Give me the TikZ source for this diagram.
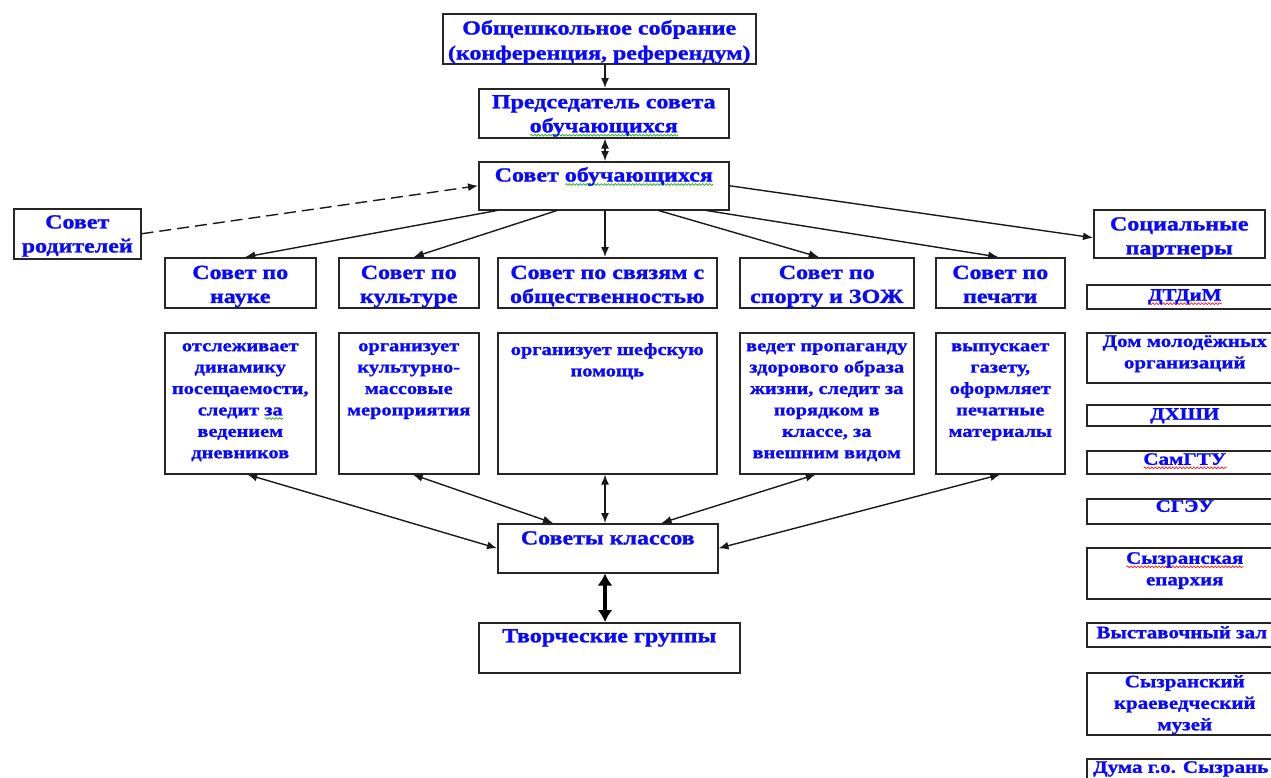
\documentclass[tikz,border=0pt]{standalone}
\usepackage{fontspec}
\setmainfont{Liberation Serif}[FakeStretch=1.2, BoldFeatures={FakeStretch=1.2, FakeBold=1.3}]
\usetikzlibrary{positioning, arrows.meta, decorations.pathmorphing}
\definecolor{ink}{RGB}{10,10,250}
\definecolor{spellg}{RGB}{40,170,40}
\definecolor{spellr}{RGB}{230,30,30}
\newlength\wavelen
\newcommand\wavy[2]{\settowidth\wavelen{#2}\rlap{\tikz[baseline=0pt]\draw[#1, line width=0.7pt, decorate, decoration={snake, amplitude=0.9pt, segment length=3.5pt}] (0pt,-3pt) -- (\wavelen,-3pt);}#2}
\tikzset{
    box/.style={draw=black!85, line width=1.5pt, anchor=north west, inner sep=0pt},
    head/.style={text=ink, font=\fontsize{20}{24}\selectfont\bfseries, align=center, inner sep=0pt},
    note/.style={text=ink, font=\fontsize{17}{21.4}\selectfont\bfseries, align=center, inner sep=0pt},
    part/.style={text=ink, font=\fontsize{17.5}{21.5}\selectfont\bfseries, align=center, inner sep=0pt},
    link/.style={-{Latex[length=10pt,width=8pt]}, line width=1.4pt, black!90},
    both/.style={{Latex[length=10pt,width=8pt]}-{Latex[length=10pt,width=8pt]}, line width=1.4pt, black!90},
    fat/.style={{Latex[length=12pt,width=15pt]}-{Latex[length=12pt,width=15pt]}, line width=4pt},
}

\begin{document}
\begin{tikzpicture}[x=1pt, y=-1pt]
        \useasboundingbox (0,0) rectangle (1271,777);
        \clip (0,0) rectangle (1271,777);
        \coordinate (axis) at (605,0);

        \node[box, minimum width=313pt, minimum height=50pt] (meet) at (442,13) {}; % meeting
        \node[head, font=\fontsize{20}{25}\selectfont\bfseries, below=7pt of meet.north] (meet-t) {Общешкольное собрание\\(конференция, референдум)};
        \node[box, minimum width=250pt, minimum height=49pt] (chair) at (478,88) {}; % chairman
        \node[head, below=7pt of chair.north] (chair-t) {Председатель совета\\\wavy{spellg}{обучающихся}};
        \node[box, minimum width=250pt, minimum height=48pt] (council) at (478,161) {}; % council
        \node[head, below=6pt of council.north] (council-t) {Совет \wavy{spellg}{обучающихся}};
        \node[box, minimum width=127pt, minimum height=50pt] (parents) at (13,208) {}; % parents
        \node[head, below=7pt of parents.north] (parents-t) {Совет\\родителей};
        \node[box, minimum width=171pt, minimum height=48pt] (social) at (1093,209) {}; % partners
        \node[head, below=8pt of social.north] (social-t) {Социальные\\партнеры};

        % councils
        \node[box, minimum width=151pt, minimum height=50pt] (science) at (164,257) {};
        \node[head, below=8.5pt of science.north] {Совет по\\науке};
        \node[box, minimum width=140pt, minimum height=50pt] (culture) at (338,257) {};
        \node[head, below=8.5pt of culture.north] {Совет по\\культуре};
        \node[box, minimum width=219pt, minimum height=50pt] (public) at (497,257) {};
        \node[head, below=8.5pt of public.north] {Совет по связям с\\общественностью};
        \node[box, minimum width=174pt, minimum height=50pt] (sport) at (739,257) {};
        \node[head, below=8.5pt of sport.north] {Совет по\\спорту и ЗОЖ};
        \node[box, minimum width=129pt, minimum height=50pt] (press) at (935,257) {};
        \node[head, below=8.5pt of press.north] {Совет по\\печати};

        % duties
        \node[box, minimum width=151pt, minimum height=141pt] (science-do) at (164,332) {};
        \node[note, below=11pt of science-do.north] {отслеживает\\динамику\\посещаемости,\\следит \wavy{spellg}{за}\\ведением\\дневников};
        \node[box, minimum width=140pt, minimum height=141pt] (culture-do) at (338,332) {};
        \node[note, below=11pt of culture-do.north] {организует\\культурно-\\массовые\\мероприятия};
        \node[box, minimum width=219pt, minimum height=141pt] (public-do) at (497,332) {};
        \node[note, below=11pt of public-do.north] {организует шефскую\\помощь};
        \node[box, minimum width=174pt, minimum height=141pt] (sport-do) at (739,332) {};
        \node[note, below=11pt of sport-do.north] {ведет пропаганду\\здорового образа\\жизни, следит за\\порядком в\\классе, за\\внешним видом};
        \node[box, minimum width=129pt, minimum height=141pt] (press-do) at (935,332) {};
        \node[note, below=11pt of press-do.north] {выпускает\\газету,\\оформляет\\печатные\\материалы};

        \node[box, minimum width=220pt, minimum height=49pt] (classes) at (497,523) {}; % classes
        \node[head, below=8pt of classes.north] {Советы классов};
        \node[box, minimum width=261pt, minimum height=50pt] (groups) at (478,622) {}; % groups
        \node[head, below=7pt of groups.north] {Творческие группы};

        % partners
        \node[box, minimum width=196pt, minimum height=24pt] (p1) at (1086,284) {};
        \node[part, below=5pt of p1.north] {\wavy{spellr}{ДТДиМ}};
        \node[box, minimum width=196pt, minimum height=50pt] (p2) at (1086,332) {};
        \node[part, below=3pt of p2.north] {Дом молодёжных\\организаций};
        \node[box, minimum width=196pt, minimum height=21pt] (p3) at (1086,404) {};
        \node[part, below=4pt of p3.north] {ДХШИ};
        \node[box, minimum width=196pt, minimum height=23pt] (p4) at (1086,450) {};
        \node[part, below=3pt of p4.north] {\wavy{spellr}{СамГТУ}};
        \node[box, minimum width=196pt, minimum height=25pt] (p5) at (1086,498) {};
        \node[part, below=2pt of p5.north] {СГЭУ};
        \node[box, minimum width=196pt, minimum height=51pt] (p6) at (1086,547) {};
        \node[part, below=5pt of p6.north] {\wavy{spellr}{Сызранская}\\епархия};
        \node[box, minimum width=196pt, minimum height=24pt] (p7) at (1086,622) {};
        \node[part, below=4pt of p7.north, xshift=-3pt] {Выставочный зал};
        \node[box, minimum width=196pt, minimum height=62pt] (p8) at (1086,672) {};
        \node[part, below=3pt of p8.north] {Сызранский\\краеведческий\\музей};
        \node[box, minimum width=196pt, minimum height=30pt] (p9) at (1086,758) {};
        \node[part, below=3pt of p9.north, xshift=-4pt] {Дума г.о. Сызрань};

        \draw[link] (meet.south -| axis) -- (chair.north -| axis);
        \draw[both] (chair.south -| axis) -- (council.north -| axis);
        \draw[link, dash pattern=on 12pt off 6pt] (parents.east) -- (council.west);
        \draw[link] ([xshift=19pt]council.south west) -- ([xshift=5pt]science.north);
        \draw[link] ([xshift=79pt]council.south west) -- ([xshift=5pt]culture.north);
        \draw[link] (council.south -| axis) -- (public.north -| axis);
        \draw[link] ([xshift=-71pt]council.south east) -- ([xshift=-8pt]sport.north);
        \draw[link] ([xshift=-23pt]council.south east) -- ([xshift=-2pt]press.north);
        \draw[link] (council.east) -- ([yshift=-4pt]social.west);

        \draw[both] ([xshift=7pt]science-do.south) -- (classes.west);
        \draw[both] ([xshift=4pt]culture-do.south) -- ([xshift=56pt]classes.north west);
        \draw[both] (public-do.south -| axis) -- (classes.north -| axis);
        \draw[both] ([xshift=-11pt]sport-do.south) -- ([xshift=-57pt]classes.north east);
        \draw[both] (press-do.south) -- (classes.east);
        \draw[fat] (classes.south -| axis) -- (groups.north -| axis);
    \end{tikzpicture}
\end{document}
